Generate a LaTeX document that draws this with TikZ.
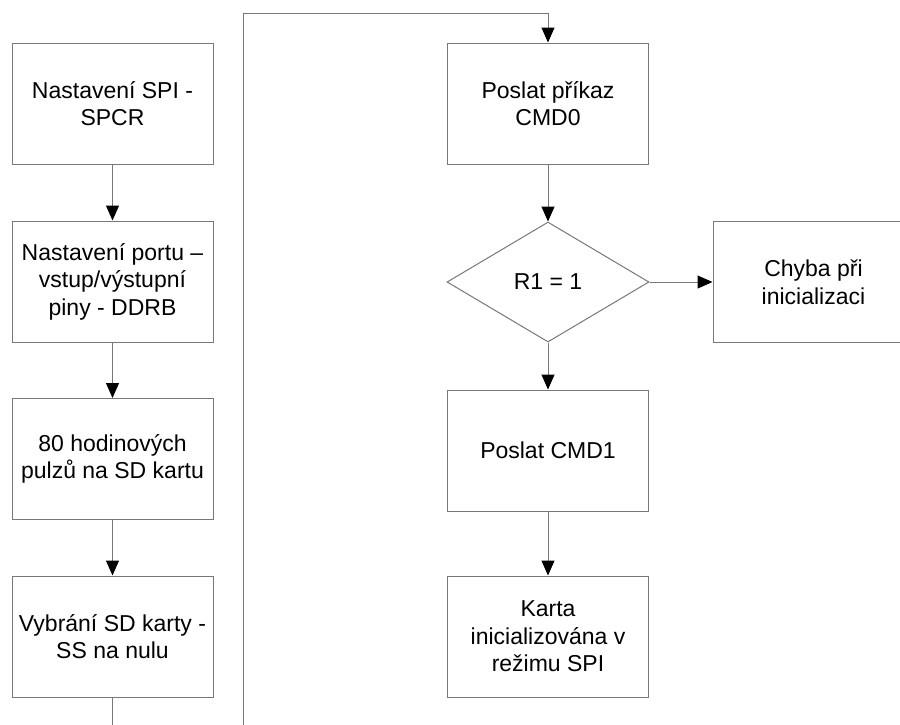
\documentclass[tikz,border=0pt]{standalone}
\usepackage{fontspec}
\setmainfont{Liberation Sans}
\usetikzlibrary{arrows.meta,shapes.geometric}
\definecolor{linegray}{RGB}{120,120,120}
\begin{document}
\begin{tikzpicture}[x=1pt,y=-1pt,
  every node/.style={font=\fontsize{23}{27.5}\selectfont},
  procbox/.style={draw=linegray,line width=1pt,rectangle,minimum width=201pt,minimum height=121pt,inner sep=0pt,align=center},
  decbox/.style={draw=linegray,line width=1pt,diamond,minimum width=202pt,minimum height=120pt,inner sep=0pt,align=center},
  conn/.style={draw=linegray,line width=1pt,-{Triangle[length=15pt,width=13pt,color=black]}}]
\clip (0,0) rectangle (900,724);
\fill[white] (0,0) rectangle (900,724);
% left column
\node[procbox] (b1) at (112.5,103.5) {Nastavení SPI -\\SPCR};
\node[procbox] (b2) at (112.5,281.5) {Nastavení portu –\\vstup/výstupní\\piny - DDRB};
\node[procbox] (b3) at (112.5,459) {80 hodinových\\pulzů na SD kartu};
\node[procbox] (b4) at (112.5,636.5) {Vybrání SD karty -\\SS na nulu};
% right column
\node[procbox] (c0) at (548,103.5) {Poslat příkaz\\CMD0};
\node[decbox] (d1) at (548,282) {R1 = 1};
\node[procbox] (c1) at (548,450.5) {Poslat CMD1};
\node[procbox] (k1) at (548,636.5) {Karta\\inicializována v\\režimu SPI};
\node[procbox] (e1) at (813.5,282) {Chyba při\\inicializaci};
% loop coordinates
\coordinate (lb) at (112.5,760);
\coordinate (rb) at (243,760);
\coordinate (rt) at (243,13);
% connectors
\draw[conn] (b1) -- (b2);
\draw[conn] (b2) -- (b3);
\draw[conn] (b3) -- (b4);
\draw[conn] (b4.south) -- (lb) -- (rb) -- (rt) -| (c0.north);
\draw[conn] (c0) -- (d1);
\draw[conn] (d1) -- (e1);
\draw[conn] (d1) -- (c1);
\draw[conn] (c1) -- (k1);
\end{tikzpicture}
\end{document}
